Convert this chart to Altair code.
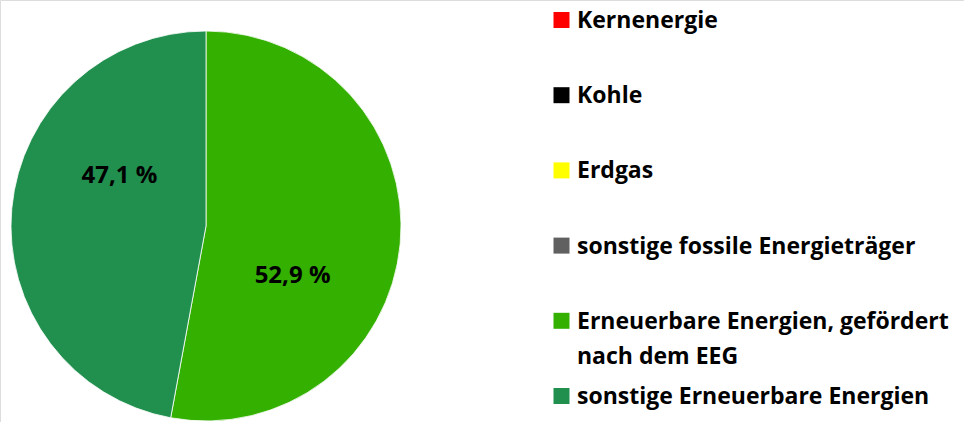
import altair as alt
import pandas as pd

categories = [
    "Kernenergie",
    "Kohle",
    "Erdgas",
    "sonstige fossile Energieträger",
    "Erneuerbare Energien, gefördert\nnach dem EEG",
    "sonstige Erneuerbare Energien",
]
shares = [0.0, 0.0, 0.0, 0.0, 52.9, 47.1]
colors = ["#FF0000", "#000000", "#FFFF00", "#606060", "#33B000", "#21904F"]

df = pd.DataFrame({"cat": categories, "value": shares, "idx": list(range(len(categories)))})

FONT = "Open Sans"
FS = 23

color = alt.Color("cat:N", scale=alt.Scale(domain=categories, range=colors), legend=None)

base = alt.Chart(df)

pie_data = base.transform_filter("datum.value > 0")

arcs = pie_data.mark_arc(outerRadius=195, stroke="white", strokeWidth=0.8).encode(
    theta=alt.Theta("value:Q", stack=True),
    order=alt.Order("idx:Q"),
    color=color,
    x=alt.value(206),
    y=alt.value(226),
)

labels = pie_data.transform_calculate(
    lbl="replace(format(datum.value, '.1f'), '.', ',') + ' %'"
).mark_text(
    radius=100, thetaOffset=0.433, font=FONT, fontWeight="bold", fontSize=24,
    align="center", baseline="middle", color="black"
).encode(
    theta=alt.Theta("value:Q", stack=True),
    order=alt.Order("idx:Q"),
    text="lbl:N",
    x=alt.value(206),
    y=alt.value(226),
)

yleg = alt.Y("cat:N", scale=alt.Scale(type="point", domain=categories, range=[20, 396], padding=0), axis=None)

squares = base.mark_square(size=256, opacity=1).encode(
    x=alt.value(561.5),
    y=yleg,
    color=color,
)

leg_text = base.mark_text(
    align="left", baseline="alphabetic", dy=8, font=FONT, fontWeight="bold",
    fontSize=FS, lineBreak="\n", lineHeight=35, color="black"
).encode(
    x=alt.value(577),
    y=yleg,
    text="cat:N",
)

chart = alt.layer(arcs, labels, squares, leg_text).properties(
    width=964, height=422, padding=0, autosize=alt.AutoSizeParams(type="none")
).configure_view(stroke=None).configure(background="white")

chart.save("out.html", embed_options={"renderer": "svg", "actions": False})
